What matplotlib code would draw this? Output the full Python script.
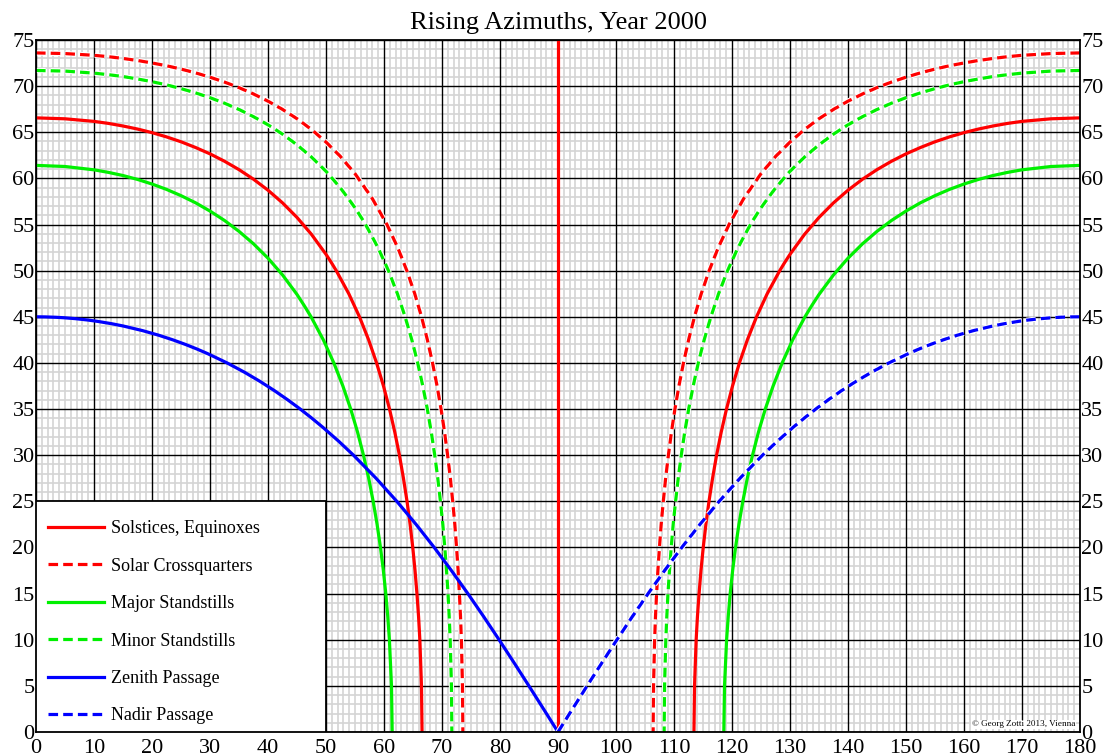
import numpy as np
import matplotlib
matplotlib.use("Agg")
import matplotlib.pyplot as plt
import matplotlib.patheffects as pe
from matplotlib.patches import Rectangle

# rising azimuth (deg) vs. geographic latitude (deg)
sol_az_l = [0, 5, 10, 12.5, 15, 17.5, 20, 22.5, 25, 27.5, 30, 32.5, 35, 37.5, 40, 42.5, 45,
            47.5, 50, 50.9, 51.77, 53.93, 55.77, 57.35, 58.72, 59.91, 60.95, 61.86, 62.66,
            63.35, 63.97, 64.50, 64.96, 65.35, 65.68, 65.96, 66.18, 66.46, 66.56]
sol_lat_l = [66.56, 66.46, 66.18, 65.96, 65.68, 65.35, 64.96, 64.50, 63.97, 63.35, 62.66,
             61.86, 60.95, 59.91, 58.72, 57.35, 55.77, 53.93, 51.77, 50.9, 50, 47.5, 45, 42.5,
             40, 37.5, 35, 32.5, 30, 27.5, 25, 22.5, 20, 17.5, 15, 12.5, 10, 5, 0]
sol_az_r = [180, 175, 170, 167.5, 165, 162.5, 160, 157.5, 155, 152.5, 150, 147.5, 145, 142.5,
            140, 137.5, 135, 132.5, 130, 129.1, 128.23, 126.07, 124.23, 122.65, 121.28, 120.09,
            119.05, 118.14, 117.34, 116.65, 116.03, 115.50, 115.04, 114.65, 114.32, 114.04,
            113.82, 113.54, 113.44]
sol_lat_r = sol_lat_l

cq_az_l = [0, 5, 10, 12.5, 15, 17.5, 20, 22.5, 25, 27.5, 30, 32.5, 35, 37.5, 40, 42.5, 45,
           47.5, 50, 52.5, 55, 57.9, 60.51, 62.37, 63.94, 65.30, 66.47, 67.48, 68.37, 69.15,
           69.84, 70.44, 70.97, 71.44, 71.85, 72.21, 72.51, 72.78, 73.0, 73.19, 73.34, 73.53,
           73.6]
cq_lat_l = [73.6, 73.53, 73.34, 73.19, 73.0, 72.78, 72.51, 72.21, 71.85, 71.44, 70.97, 70.44,
            69.84, 69.15, 68.37, 67.48, 66.47, 65.30, 63.94, 62.37, 60.51, 57.9, 55, 52.5, 50,
            47.5, 45, 42.5, 40, 37.5, 35, 32.5, 30, 27.5, 25, 22.5, 20, 17.5, 15, 12.5, 10, 5, 0]
cq_az_r = [180, 175, 170, 167.5, 165, 162.5, 160, 157.5, 155, 152.5, 150, 147.5, 145, 142.5,
           140, 137.5, 135, 132.5, 130, 127.5, 125, 122.1, 119.49, 117.63, 116.06, 114.70,
           113.53, 112.52, 111.63, 110.85, 110.16, 109.56, 109.03, 108.56, 108.15, 107.79,
           107.49, 107.22, 107.0, 106.81, 106.66, 106.47, 106.4]
cq_lat_r = cq_lat_l

maj_az_l = [0, 5, 10, 12.5, 15, 17.5, 20, 22.5, 25, 27.5, 30, 32.5, 35, 37.5, 40, 42.5, 45,
            46.23, 47.42, 49.54, 51.35, 52.91, 54.26, 55.44, 56.46, 57.36, 58.13, 58.81, 59.39,
            59.89, 60.31, 60.65, 60.93, 61.29, 61.41]
maj_lat_l = [61.41, 61.29, 60.93, 60.65, 60.31, 59.89, 59.39, 58.81, 58.13, 57.36, 56.46,
             55.44, 54.26, 52.91, 51.35, 49.54, 47.42, 46.23, 45, 42.5, 40, 37.5, 35, 32.5, 30,
             27.5, 25, 22.5, 20, 17.5, 15, 12.5, 10, 5, 0]
maj_az_r = [180, 175, 170, 167.5, 165, 162.5, 160, 157.5, 155, 152.5, 150, 147.5, 145, 142.5,
            140, 137.5, 135, 133.77, 132.58, 130.46, 128.65, 127.09, 125.74, 124.56, 123.54,
            122.64, 121.87, 121.19, 120.61, 120.11, 119.69, 119.35, 119.07, 118.71, 118.59]
maj_lat_r = maj_lat_l

min_az_l = [0, 5, 10, 12.5, 15, 17.5, 20, 22.5, 25, 27.5, 30, 32.5, 35, 37.5, 40, 42.5, 45,
            47.5, 50, 52.5, 55, 55.92, 56.82, 58.96, 60.77, 62.31, 63.64, 64.80, 65.81, 66.69,
            67.47, 68.15, 68.75, 69.27, 69.73, 70.14, 70.48, 70.78, 71.04, 71.24, 71.41, 71.63,
            71.7]
min_lat_l = [71.7, 71.63, 71.41, 71.24, 71.04, 70.78, 70.48, 70.14, 69.73, 69.27, 68.75, 68.15,
             67.47, 66.69, 65.81, 64.80, 63.64, 62.31, 60.77, 58.96, 56.82, 55.92, 55, 52.5, 50,
             47.5, 45, 42.5, 40, 37.5, 35, 32.5, 30, 27.5, 25, 22.5, 20, 17.5, 15, 12.5, 10, 5,
             0]
min_az_r = [180, 175, 170, 167.5, 165, 162.5, 160, 157.5, 155, 152.5, 150, 147.5, 145, 142.5,
            140, 137.5, 135, 132.5, 130, 127.5, 125, 124.08, 123.18, 121.04, 119.23, 117.69,
            116.36, 115.20, 114.19, 113.31, 112.53, 111.85, 111.25, 110.73, 110.27, 109.86,
            109.52, 109.22, 108.96, 108.76, 108.59, 108.37, 108.3]
min_lat_r = min_lat_l

equ_az = [90, 90]
equ_lat = [0, 75]

zen_lat = [0, 2.5, 5, 7.5, 10, 12.5, 15, 17.5, 20, 22.5, 25, 27.5, 30, 31.5, 33, 34, 35, 36,
           37, 38, 39, 40, 41, 41.5, 42, 42.5, 43, 43.5, 44, 44.25, 44.5, 44.65, 44.8, 44.9,
           44.95, 44.99, 45]
zen_az = [90, 87.5, 84.98, 82.43, 79.84, 77.19, 74.46, 71.62, 68.66, 65.53, 62.21, 58.63,
          54.74, 52.21, 49.5, 47.58, 45.56, 43.4, 41.1, 38.62, 35.92, 32.95, 29.62, 27.78,
          25.79, 23.6, 21.17, 18.38, 15.05, 13.05, 10.66, 8.94, 6.76, 4.78, 3.38, 1.51, 0]
nad_lat = zen_lat
nad_az = [90, 92.5, 95.02, 97.57, 100.16, 102.81, 105.54, 108.38, 111.34, 114.47, 117.79,
          121.37, 125.26, 127.79, 130.5, 132.42, 134.44, 136.6, 138.9, 141.38, 144.08, 147.05,
          150.38, 152.22, 154.21, 156.4, 158.83, 161.62, 164.95, 166.95, 169.34, 171.06,
          173.24, 175.22, 176.62, 178.49, 180]

RED = "#ff0000"
GREEN = "#00f000"
BLUE = "#0000ff"

plt.rcParams["font.family"] = ["Liberation Serif", "DejaVu Serif"]

fig = plt.figure(figsize=(11.07, 7.56), dpi=100)
ax = fig.add_axes([36 / 1107, 1 - 732 / 756, 1044 / 1107, 692 / 756])

ax.set_xlim(0, 180)
ax.set_ylim(0, 75)
ax.set_xticks(np.arange(0, 181, 10))
ax.set_yticks(np.arange(0, 76, 5))
ax.set_xticks(np.arange(0, 181, 1), minor=True)
ax.set_yticks(np.arange(0, 76, 1), minor=True)
ax.grid(which="minor", color="#d4d4d4", linewidth=1.2)
ax.set_axisbelow(True)
# major grid drawn above the minor one
ax.vlines(ax.get_xticks(), 0, 75, colors="black", linewidth=1.0, zorder=0.9)
ax.hlines(ax.get_yticks(), 0, 180, colors="black", linewidth=1.0, zorder=0.9)
ax.tick_params(which="both", length=0, labelsize=16, pad=1,
               left=True, right=True, labelleft=True, labelright=True)
ax.tick_params(axis="x", pad=5)
for s in ax.spines.values():
    s.set_linewidth(1.3)

lw = 2.3
halo = [pe.Stroke(linewidth=lw + 1.5, foreground="white"), pe.Normal()]
dash = (3, 1.6)

ax.plot(sol_az_l, sol_lat_l, color=RED, lw=lw, label="Solstices, Equinoxes")
ax.plot(sol_az_r, sol_lat_r, color=RED, lw=lw)
ax.plot(equ_az, equ_lat, color=RED, lw=lw)
ax.plot(cq_az_l, cq_lat_l, color=RED, lw=lw, dashes=dash, path_effects=halo,
        label="Solar Crossquarters")
ax.plot(cq_az_r, cq_lat_r, color=RED, lw=lw, dashes=dash, path_effects=halo)
ax.plot(maj_az_l, maj_lat_l, color=GREEN, lw=lw, label="Major Standstills")
ax.plot(maj_az_r, maj_lat_r, color=GREEN, lw=lw)
ax.plot(min_az_l, min_lat_l, color=GREEN, lw=lw, dashes=dash, path_effects=halo,
        label="Minor Standstills")
ax.plot(min_az_r, min_lat_r, color=GREEN, lw=lw, dashes=dash, path_effects=halo)
ax.plot(zen_az, zen_lat, color=BLUE, lw=lw, label="Zenith Passage")
ax.plot(nad_az, nad_lat, color=BLUE, lw=lw, dashes=dash, path_effects=halo,
        label="Nadir Passage")

# white box behind the legend
ax.add_patch(Rectangle((0, 0), 50, 25, facecolor="white", edgecolor="black",
                       linewidth=1.3, zorder=4))
leg = ax.legend(loc="upper left", bbox_to_anchor=(-0.0067, 25 / 75), frameon=False,
                fontsize=13, handlelength=3.1, labelspacing=1.13, handletextpad=0.4,
                borderaxespad=0.3, borderpad=0.75)
leg.set_zorder(5)
for h in leg.get_lines():
    h.set_path_effects([])

ax.set_title("Rising Azimuths, Year 2000", fontsize=19, pad=8)
ax.text(179.2, 0.4, "\u00a9 Georg Zotti 2013, Vienna", fontsize=6.6, ha="right", va="bottom",
        bbox=dict(facecolor="white", edgecolor="none", pad=0.5), zorder=6)

fig.savefig("out.png", dpi=100)
